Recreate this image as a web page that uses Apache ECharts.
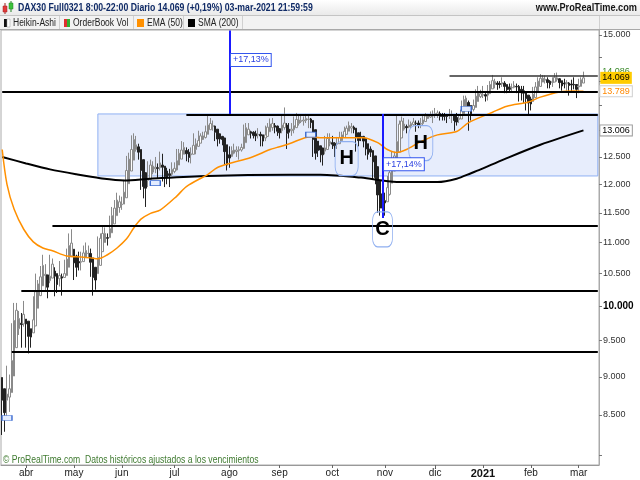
<!DOCTYPE html>
<html><head><meta charset="utf-8">
<script src="https://cdn.jsdelivr.net/npm/echarts@6/dist/echarts.min.js"></script>
<style>html,body{margin:0;padding:0;background:#fff}#c{width:640px;height:480px}</style>
</head><body><div id="c"></div>
<script>
const dates = [
'2020-03-18','2020-03-19','2020-03-20','2020-03-23','2020-03-24','2020-03-25','2020-03-26','2020-03-27','2020-03-30','2020-03-31',
'2020-04-01','2020-04-02','2020-04-03','2020-04-06','2020-04-07','2020-04-08','2020-04-09','2020-04-14','2020-04-15','2020-04-16','2020-04-17','2020-04-20','2020-04-21','2020-04-22','2020-04-23','2020-04-24','2020-04-27','2020-04-28','2020-04-29','2020-04-30',
'2020-05-04','2020-05-05','2020-05-06','2020-05-07','2020-05-08','2020-05-11','2020-05-12','2020-05-13','2020-05-14','2020-05-15','2020-05-18','2020-05-19','2020-05-20','2020-05-21','2020-05-22','2020-05-25','2020-05-26','2020-05-27','2020-05-28','2020-05-29',
'2020-06-01','2020-06-02','2020-06-03','2020-06-04','2020-06-05','2020-06-08','2020-06-09','2020-06-10','2020-06-11','2020-06-12','2020-06-15','2020-06-16','2020-06-17','2020-06-18','2020-06-19','2020-06-22','2020-06-23','2020-06-24','2020-06-25','2020-06-26','2020-06-29','2020-06-30',
'2020-07-01','2020-07-02','2020-07-03','2020-07-06','2020-07-07','2020-07-08','2020-07-09','2020-07-10','2020-07-13','2020-07-14','2020-07-15','2020-07-16','2020-07-17','2020-07-20','2020-07-21','2020-07-22','2020-07-23','2020-07-24','2020-07-27','2020-07-28','2020-07-29','2020-07-30','2020-07-31',
'2020-08-03','2020-08-04','2020-08-05','2020-08-06','2020-08-07','2020-08-10','2020-08-11','2020-08-12','2020-08-13','2020-08-14','2020-08-17','2020-08-18','2020-08-19','2020-08-20','2020-08-21','2020-08-24','2020-08-25','2020-08-26','2020-08-27','2020-08-28','2020-08-31',
'2020-09-01','2020-09-02','2020-09-03','2020-09-04','2020-09-07','2020-09-08','2020-09-09','2020-09-10','2020-09-11','2020-09-14','2020-09-15','2020-09-16','2020-09-17','2020-09-18','2020-09-21','2020-09-22','2020-09-23','2020-09-24','2020-09-25','2020-09-28','2020-09-29','2020-09-30',
'2020-10-01','2020-10-02','2020-10-05','2020-10-06','2020-10-07','2020-10-08','2020-10-09','2020-10-12','2020-10-13','2020-10-14','2020-10-15','2020-10-16','2020-10-19','2020-10-20','2020-10-21','2020-10-22','2020-10-23','2020-10-26','2020-10-27','2020-10-28','2020-10-29','2020-10-30',
'2020-11-02','2020-11-03','2020-11-04','2020-11-05','2020-11-06','2020-11-09','2020-11-10','2020-11-11','2020-11-12','2020-11-13','2020-11-16','2020-11-17','2020-11-18','2020-11-19','2020-11-20','2020-11-23','2020-11-24','2020-11-25','2020-11-26','2020-11-27','2020-11-30',
'2020-12-01','2020-12-02','2020-12-03','2020-12-04','2020-12-07','2020-12-08','2020-12-09','2020-12-10','2020-12-11','2020-12-14','2020-12-15','2020-12-16','2020-12-17','2020-12-18','2020-12-21','2020-12-22','2020-12-23','2020-12-28','2020-12-29','2020-12-30',
'2021-01-04','2021-01-05','2021-01-06','2021-01-07','2021-01-08','2021-01-11','2021-01-12','2021-01-13','2021-01-14','2021-01-15','2021-01-18','2021-01-19','2021-01-20','2021-01-21','2021-01-22','2021-01-25','2021-01-26','2021-01-27','2021-01-28','2021-01-29',
'2021-02-01','2021-02-02','2021-02-03','2021-02-04','2021-02-05','2021-02-08','2021-02-09','2021-02-10','2021-02-11','2021-02-12','2021-02-15','2021-02-16','2021-02-17','2021-02-18','2021-02-19','2021-02-22','2021-02-23','2021-02-24','2021-02-25','2021-02-26',
'2021-03-01','2021-03-02','2021-03-03'];
const futureDates = ['2021-03-04','2021-03-05','2021-03-08','2021-03-09','2021-03-10','2021-03-11'];

// Heikin-Ashi candles: [open, close, low, high]
const candles = [
[8990,8690,8250,8990],[8840,8530,8290,8840],[8690,8770,8460,9150],[8730,8840,8540,9030],[8790,9220,8790,9750],
[9010,9790,9010,10050],[9400,9940,9400,10050],[9670,9820,9580,9930],[9750,9730,9400,9900],[9740,9880,9700,10080],
[9810,9740,9400,9810],[9780,9560,9320,9780],[9670,9550,9400,9670],[9610,9800,9610,10150],[9710,10220,9710,10500],
[9970,10340,9970,10400],[10160,10450,10160,10620],[10310,10630,10310,10800],[10470,10490,10220,10650],[10480,10290,10120,10480],
[10390,10460,10350,10800],[10430,10650,10430,10740],[10540,10460,10150,10600],[10500,10330,10200,10500],[10420,10470,10300,10700],
[10450,10430,10160,10500],[10440,10500,10440,10720],[10470,10730,10470,10900],[10600,10950,10600,11150],[10780,10990,10780,11220],
[10890,10670,10400,10890],[10780,10600,10450,10800],[10690,10670,10550,10850],[10680,10690,10550,10850],[10690,10830,10690,10950],
[10760,10870,10750,11000],[10820,10825,10750,10950],[10820,10680,10450,10900],[10750,10440,10160,10750],[10600,10400,10250,10600],
[10500,10760,10500,11100],[10630,11070,10630,11150],[10850,11150,10850,11280],[11000,11150,11000,11250],[11080,11070,10950,11150],
[11080,11230,11080,11450],[11160,11450,11160,11600],[11310,11580,11310,11720],[11450,11720,11450,11850],[11590,11690,11500,11800],
[11640,11650,11550,11780],[11650,11860,11650,12080],[11760,12250,11760,12520],[12010,12460,12010,12580],[12240,12640,12240,12910],
[12440,12830,12440,12950],[12640,12730,12600,12900],[12690,12590,12450,12750],[12640,12250,11900,12640],[12450,11960,11750,12450],
[12210,11930,11600,12210],[12070,12110,11950,12420],[12090,12350,12090,12450],[12220,12330,12180,12420],[12280,12310,12200,12500],
[12300,12290,12100,12380],[12300,12390,12250,12600],[12350,12310,12050,12560],[12330,12140,11950,12330],[12240,12130,12000,12300],
[12190,12160,11950,12280],[12180,12270,12150,12400],[12230,12290,12200,12400],[12260,12430,12250,12650],[12350,12570,12350,12650],
[12460,12630,12460,12800],[12550,12680,12550,12780],[12620,12560,12420,12680],[12590,12490,12400,12650],[12540,12560,12380,12680],
[12550,12720,12550,12950],[12640,12750,12550,12850],[12700,12810,12700,13000],[12760,12900,12760,12950],[12830,12900,12820,12980],
[12870,12980,12850,13100],[12930,13110,12930,13310],[13020,13140,13020,13250],[13080,13100,13000,13200],[13090,12970,12800,13100],
[13030,12840,12700,13030],[12940,12840,12750,12950],[12890,12830,12720,12900],[12860,12600,12350,12860],[12730,12350,12250,12730],
[12540,12480,12300,12700],[12510,12620,12500,12700],[12570,12630,12550,12750],[12600,12630,12500,12700],[12620,12640,12450,12700],
[12630,12680,12600,12750],[12660,12880,12650,13120],[12770,13060,12770,13150],[12920,13030,12920,13150],[12980,12950,12850,13000],
[12970,12910,12850,12990],[12940,12900,12800,13000],[12920,12930,12850,13050],[12930,12900,12700,12980],[12920,12800,12700,12920],
[12860,12920,12800,13100],[12890,13070,12890,13150],[12980,13130,12980,13240],[13060,13140,13000,13250],[13100,13070,12950,13150],
[13090,12990,12900,13100],[13040,12960,12850,13050],[13000,13110,12950,13300],[13060,13150,13020,13460],[13110,12950,12650,13150],
[13030,12970,12850,13150],[13000,13030,12900,13150],[13020,13100,12950,13280],[13060,13220,13060,13350],[13140,13210,13100,13300],
[13180,13200,13150,13300],[13190,13210,13100,13280],[13200,13240,13150,13330],[13220,13230,13050,13300],[13230,13160,13050,13250],
[13200,12830,12500,13200],[13020,12570,12450,13020],[12800,12620,12500,12800],[12710,12630,12400,12710],[12670,12540,12340,12670],
[12610,12670,12550,12900],[12640,12850,12640,12950],[12750,12790,12700,12950],[12770,12740,12650,12900],[12760,12710,12500,12780],
[12740,12760,12650,12880],[12750,12870,12750,12980],[12810,12920,12800,12980],[12870,12990,12870,13080],[12930,13050,12930,13100],
[12990,13100,12990,13180],[13050,13080,12950,13150],[13070,13020,12950,13100],[13050,12870,12600,13050],[12960,12810,12700,12960],
[12890,12880,12800,12980],[12890,12800,12680,12900],[12850,12650,12530,12850],[12750,12550,12450,12750],[12650,12590,12500,12700],
[12620,12410,12100,12620],[12520,12120,12000,12520],[12320,11810,11500,12320],[12070,11580,11450,12070],[11830,11580,11430,11830],
[11710,11670,11450,11850],[11690,11940,11690,12150],[11820,12210,11800,12350],[12020,12450,12020,12600],[12240,12520,12240,12600],
[12380,12790,12380,13300],[12590,13130,12590,13200],[12860,13190,12860,13280],[13030,13130,13000,13250],[13080,13060,12950,13120],
[13070,13110,13050,13220],[13090,13140,13050,13180],[13120,13170,13100,13250],[13150,13140,12980,13200],[13150,13110,13050,13200],
[13130,13140,13050,13250],[13140,13210,13100,13320],[13180,13290,13180,13350],[13240,13290,13230,13330],[13270,13310,13250,13380],
[13290,13310,13150,13400],[13300,13340,13250,13450],[13320,13350,13250,13400],[13340,13280,13200,13380],[13310,13280,13200,13350],
[13300,13280,13200,13350],[13290,13280,13150,13330],[13290,13310,13230,13430],[13300,13320,13150,13400],[13310,13200,13000,13310],
[13260,13170,13100,13350],[13220,13240,13150,13320],[13230,13410,13230,13600],[13320,13620,13320,13700],[13470,13650,13470,13700],
[13560,13440,13000,13600],[13500,13330,13200,13500],[13420,13500,13380,13620],[13460,13690,13460,13830],[13580,13780,13580,13900],
[13680,13740,13650,13820],[13710,13720,13650,13900],[13720,13690,13580,13750],[13710,13770,13600,13920],[13740,13930,13740,14000],
[13840,14010,13840,14130],[13930,13990,13850,14050],[13960,13930,13820,14000],[13950,13930,13850,14000],[13940,13970,13880,14080],
[13960,13890,13750,14000],[13930,13820,13750,13930],[13880,13830,13780,13950],[13860,13870,13760,13950],[13870,13910,13850,14000],
[13890,13880,13750,13950],[13890,13760,13580,13920],[13830,13760,13600,13900],[13800,13750,13550,13900],[13780,13640,13400,13780],
[13710,13550,13310,13710],[13630,13530,13400,13680],[13580,13730,13580,13880],[13660,13880,13660,13980],[13770,14000,13770,14080],
[13890,14060,13890,14150],[13980,14060,13980,14130],[14020,14040,13950,14120],[14030,13970,13850,14080],[14000,13930,13850,14020],
[13970,13990,13880,14080],[13980,14080,13980,14170],[14030,14070,13990,14180],[14050,13970,13850,14060],[14010,13900,13800,14010],
[13960,13940,13850,14050],[13950,13970,13800,14020],[13960,13910,13700,13980],[13940,13920,13780,14030],[13930,13920,13830,14080],
[13930,13830,13650,13930],[13880,13900,13750,14050],[13890,14030,13890,14080],[13960,14069,13960,14200]];

// indicator readings: [category index, value]
const emaPoints = [[0,12640],[2,12000],[5,11560],[9,11220],[13,11010],[17,10910],[21,10865],[27,10780],[33,10765],[37,10750],[40,10735],[44,10800],[48,10910],[52,11060],[55,11240],[58,11390],[62,11490],[66,11545],[73,11790],[77,11960],[86,12180],[90,12305],[95,12380],[104,12490],[112,12640],[115,12680],[120,12750],[129,12885],[133,12866],[144,12866],[151,12866],[157,12770],[161,12640],[165,12585],[169,12640],[175,12790],[182,12920],[190,12985],[195,13160],[205,13365],[211,13485],[220,13570],[225,13670],[233,13775],[239,13795],[243,13789]];
const smaPoints = [[0,12500],[10,12380],[20,12270],[31,12180],[41,12110],[51,12070],[62,12100],[86,12150],[120,12170],[133,12170],[150,12120],[165,12040],[182,12040],[190,12100],[196,12200],[200,12270],[210,12460],[225,12730],[243,13006]];

const levelValues = [14120, 13780, 13320, 11280, 10235, 9339];
const levelStarts = [187, 0, 77, 21, 8, 4];
const boxArea = [40, 13330, 12150];           // start index, top, bottom
const blueLines = [[95, 15100, 13330], [159, 13330, 11410]];
const pctLabels = [[95, 14450, '+17,13%'], [159, 12365, '+17,14%']];
const patterns = [[144, 12470, 'H'], [175, 12763, 'H'], [159, 11219, 'C']];
const rollMarks = [[2, 8462], [64, 12022], [129, 12924], [194, 13434]];
const tagValues = [14086, 14069, 13789, 13006];
const yTickValues = [8000,8500,9000,9500,10000,10500,11000,11500,12000,12500,13000,13500,14000,14500,15000];
const yLabelValues = [8500,9000,9500,10000,10500,11000,11500,12000,12500,15000];
const monthNames = ['ene','feb','mar','abr','may','jun','jul','ago','sep','oct','nov','dic'];

const FONT = '"Liberation Sans",Arial,sans-serif';
const categories = dates.concat(futureDates);
const lastIdx = categories.length - 1;
const isMonthStart = (i) => i > 0 && categories[i].slice(0,7) !== categories[i-1].slice(0,7);
const fmtNum = (v) => String(Math.round(v)).replace(/\B(?=(\d{3})+(?!\d))/g, '.');

const chart = echarts.init(document.getElementById('c'));
const tagStyles = [
  {color:'#3a8a2a', backgroundColor:'rgba(0,0,0,0)', offset:[0,-6]},
  {color:'#000', backgroundColor:'#ffcc00', padding:[2,2,1,2]},
  {color:'#ff8800', backgroundColor:'#fff', borderColor:'#cfcfcf', borderWidth:1},
  {color:'#000', backgroundColor:'#fff', borderColor:'#9a9a9a', borderWidth:1}
];
const patternSizes = [[23,34],[24,35],[20,35]];
const txt = (x, y, text, font, fill, sx, align) => ({type:'text', z:103, x:x, y:y, scaleX:sx, scaleY:1,
  style:{x:0, y:0, text:text, font:font, fill:fill, align:align||'left', verticalAlign:'middle'}});

chart.setOption({
  animation: false,
  backgroundColor: '#fff',
  grid: {left:1, right:41, top:30, bottom:15, show:true, borderColor:'#aaaaaa', borderWidth:1, backgroundColor:'#fff'},
  xAxis: {
    type:'category', data: categories, boundaryGap: true,
    axisLine:{show:true, lineStyle:{color:'#999'}},
    axisTick:{show:true, alignWithLabel:true, length:3, interval:(i)=>isMonthStart(i), lineStyle:{color:'#666'}},
    axisLabel:{interval:(i)=>isMonthStart(i), margin:3, fontSize:10, color:'#222', fontFamily:FONT,
      formatter:(val)=>{const m=+val.slice(5,7); return m===1 ? '{b|'+val.slice(0,4)+'}' : monthNames[m-1];},
      rich:{b:{fontWeight:'bold', fontSize:11, color:'#111', fontFamily:FONT}}},
    splitLine:{show:false}
  },
  yAxis: {
    type:'log', logBase:10, position:'right', min:7888, max:15112, scale:true,
    axisLine:{show:true, lineStyle:{color:'#aaa'}},
    axisTick:{show:true, length:3, customValues:yTickValues, lineStyle:{color:'#777'}},
    axisLabel:{customValues:yLabelValues, margin:4, fontSize:9, color:'#333', fontFamily:FONT,
      formatter:(v)=> v===10000 ? '{b|'+fmtNum(v)+'}' : fmtNum(v),
      rich:{b:{fontWeight:'bold', fontSize:10, color:'#000', fontFamily:FONT}}},
    splitLine:{show:false}, minorTick:{show:false}
  },
  series: [
    {type:'line', data:[], z:1,
      markArea:{silent:true, itemStyle:{color:'#e7edfc', borderColor:'#8fb0f3', borderWidth:1},
        data:[[{coord:[boxArea[0], boxArea[1]]},{coord:[lastIdx, boxArea[2]]}]]}},
    {type:'candlestick', data:candles, barWidth:2, z:2,
      itemStyle:{color:'#ffffff', color0:'#222222', borderColor:'#8a8a8a', borderColor0:'#222222', borderWidth:1}},
    {type:'line', data:smaPoints, symbol:'none', smooth:0.3, z:3, lineStyle:{color:'#000', width:2}},
    {type:'line', data:emaPoints, symbol:'none', smooth:0.3, z:3, lineStyle:{color:'#ff9000', width:1.5}},
    {type:'line', data:[], z:4,
      markLine:{silent:true, symbol:['none','none'], label:{show:false},
        data: levelValues.map((v,i)=>[{coord:[levelStarts[i], v], lineStyle:{color:i===0?'#333':'#000', width:i===0?1.5:2, type:'solid'}},{coord:[lastIdx, v]}])}},
    {type:'line', data:[], z:5,
      markLine:{silent:true, symbol:['none','none'], label:{show:false},
        lineStyle:{color:'#1a1aff', width:2, type:'solid'},
        data: blueLines.map(b=>[{coord:[b[0], b[1]]},{coord:[b[0], b[2]]}])},
      markPoint:{silent:true,
        data: pctLabels.map(p=>({coord:[p[0],p[1]], symbol:'rect', symbolSize:[1,1], itemStyle:{color:'rgba(0,0,0,0)'},
            label:{show:true, position:'right', distance:1, formatter:p[2], color:'#2a3fe0', fontSize:9, fontFamily:FONT,
              backgroundColor:'#fff', borderColor:'#3355ee', borderWidth:1, padding:[2,2,1,2]}}))
          .concat(patterns.map((p,i)=>({coord:[p[0],p[1]], symbol:'roundRect', symbolSize:patternSizes[i],
            itemStyle:{color:'rgba(255,255,255,0)', borderColor:'#8eaef0', borderWidth:1},
            label:{show:true, position:'inside', formatter:p[2], fontSize:20, fontWeight:'bold', color:'#000', fontFamily:FONT}})))
          .concat(rollMarks.map(r=>({coord:[r[0],r[1]], symbol:'rect', symbolSize:[10,5],
            itemStyle:{color:'#e3ecff', borderColor:'#3a6ad0', borderWidth:1}, label:{show:false}})))}},
    {type:'line', data:[], z:6, clip:false,
      markPoint:{silent:true,
        data: tagValues.map((v,i)=>({coord:[lastIdx, v], symbol:'rect', symbolSize:[1,1], itemStyle:{color:'rgba(0,0,0,0)'},
          label:Object.assign({show:true, position:'right', distance:2, formatter:fmtNum(v),
            fontSize:9, fontFamily:FONT, padding:[1,2,0,2]}, tagStyles[i])}))}}
  ],
  graphic: [
    {type:'rect', z:100, shape:{x:0,y:0,width:640,height:16}, style:{fill:new echarts.graphic.LinearGradient(0,0,0,1,[{offset:0,color:'#ffffff'},{offset:1,color:'#e8e8e8'}])}},
    {type:'line', z:101, shape:{x1:0,y1:15.5,x2:640,y2:15.5}, style:{stroke:'#c4c4c4'}},
    {type:'rect', z:100, shape:{x:0,y:16,width:640,height:14}, style:{fill:'#f2f2f2'}},
    {type:'line', z:101, shape:{x1:59.5,y1:16,x2:59.5,y2:30}, style:{stroke:'#d0d0d0'}},
    {type:'line', z:101, shape:{x1:133.5,y1:16,x2:133.5,y2:30}, style:{stroke:'#d0d0d0'}},
    {type:'line', z:101, shape:{x1:183.5,y1:16,x2:183.5,y2:30}, style:{stroke:'#d0d0d0'}},
    {type:'line', z:101, shape:{x1:242.5,y1:16,x2:242.5,y2:30}, style:{stroke:'#d0d0d0'}},
    {type:'line', z:101, shape:{x1:599.5,y1:16,x2:599.5,y2:30}, style:{stroke:'#d0d0d0'}},
    {type:'line', z:101, shape:{x1:0,y1:29.5,x2:640,y2:29.5}, style:{stroke:'#a8a8a8'}},
    {type:'line', z:101, shape:{x1:5,y1:3,x2:5,y2:14}, style:{stroke:'#a02020'}},
    {type:'rect', z:102, shape:{x:3,y:6,width:4,height:6}, style:{fill:'#e23a3a', stroke:'#a02020', lineWidth:0.5}},
    {type:'line', z:101, shape:{x1:11,y1:1,x2:11,y2:12}, style:{stroke:'#208020'}},
    {type:'rect', z:102, shape:{x:9,y:3,width:4,height:6}, style:{fill:'#3cc23c', stroke:'#208020', lineWidth:0.5}},
    {type:'rect', z:102, shape:{x:4,y:19,width:3,height:8}, style:{fill:'#111'}},
    {type:'rect', z:102, shape:{x:7,y:19,width:3,height:8}, style:{fill:'#fff', stroke:'#999', lineWidth:0.5}},
    {type:'rect', z:102, shape:{x:64,y:19,width:3,height:8}, style:{fill:'#e03030'}},
    {type:'rect', z:102, shape:{x:67,y:19,width:3,height:8}, style:{fill:'#30b030'}},
    {type:'rect', z:102, shape:{x:137,y:19,width:7,height:8}, style:{fill:'#ff9000'}},
    {type:'rect', z:102, shape:{x:188,y:19,width:7,height:8}, style:{fill:'#000'}},
    txt(18, 8, 'DAX30 Full0321 8:00-22:00 Diario 14.069 (+0,19%) 03-mar-2021 21:59:59', 'bold 10px '+FONT, '#0f2a66', 0.87),
    txt(637, 8, 'www.ProRealTime.com', 'bold 10px '+FONT, '#151515', 0.92, 'right'),
    txt(13, 23, 'Heikin-Ashi', '10px '+FONT, '#222', 0.85),
    txt(73, 23, 'OrderBook Vol', '10px '+FONT, '#222', 0.85),
    txt(147, 23, 'EMA (50)', '10px '+FONT, '#222', 0.85),
    txt(198, 23, 'SMA (200)', '10px '+FONT, '#222', 0.85),
    txt(3, 460, '© ProRealTime.com  Datos históricos ajustados a los vencimientos', '10px '+FONT, '#3f7a30', 0.86)
  ]
});
</script></body></html>
